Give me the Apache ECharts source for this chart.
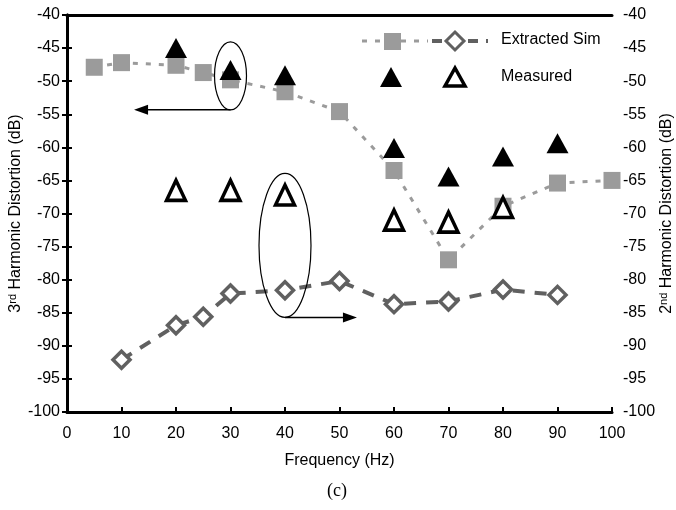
<!DOCTYPE html>
<html><head><meta charset="utf-8">
<script src="https://cdn.jsdelivr.net/npm/echarts@6/dist/echarts.min.js"></script>
<style>html,body{margin:0;padding:0;background:#fff}#c{width:676px;height:510px}</style>
</head><body><div id="c"></div>
<script>
// Extracted simulation, 3rd harmonic (left axis)
const simX3 = [5, 10, 20, 25, 30, 40, 50, 60, 70, 80, 90, 100];
const simY3 = [-47.9, -47.2, -47.6, -48.7, -49.8, -51.6, -54.6, -63.5, -77.0, -68.9, -65.4, -65.0];
// Extracted simulation, 2nd harmonic (right axis)
const simX2 = [10, 20, 25, 30, 40, 50, 60, 70, 80, 90];
const simY2 = [-92.1, -86.9, -85.6, -82.1, -81.6, -80.2, -83.7, -83.3, -81.5, -82.3];
// Measured 3rd harmonic (filled triangles, left axis)
const measX3 = [20, 30, 40, 60, 70, 80, 90];
const measY3 = [-45.0, -48.3, -49.1, -60.1, -64.4, -61.4, -59.4];
// Measured 2nd harmonic (open triangles, right axis)
const measX2 = [20, 30, 40, 60, 70, 80];
const measY2 = [-66.5, -66.5, -67.2, -71.0, -71.3, -69.1];
const xTicks = [0, 100, 10];
const yTicks = [-100, -40, 5];

const pair = (xs, ys) => xs.map((x, i) => [x, ys[i]]);
const font = 'Liberation Sans, Arial, sans-serif';
const yAx = (pos, name, margin, gap) => ({
  type: 'value', position: pos, min: yTicks[0], max: yTicks[1], interval: yTicks[2],
  axisLine: {show: true, lineStyle: {color: '#000', width: 3}},
  axisTick: {show: true, inside: true, length: 5, lineStyle: {color: '#000', width: 2}},
  axisLabel: {color: '#000', fontSize: 16, fontFamily: font, margin: margin},
  splitLine: {show: false},
  name: name, nameLocation: 'middle', nameRotate: 90, nameGap: gap, nameMoveOverlap: false,
  nameTextStyle: {color: '#000', fontSize: 16, fontFamily: font,
    rich: {n: {fontSize: 16, fontFamily: font, color: '#000'}, s: {fontSize: 11, fontFamily: font, color: '#000', verticalAlign: 'top', padding: [0, 0, 7, 0]}}}
});

const chart = echarts.init(document.getElementById('c'));
chart.setOption({
  animation: false,
  grid: {left: 67, right: 64, top: 15, bottom: 98, containLabel: false, outerBoundsMode: 'none'},
  xAxis: [{
    type: 'value', min: xTicks[0], max: xTicks[1], interval: xTicks[2],
    axisLine: {lineStyle: {color: '#000', width: 3}},
    axisTick: {inside: true, length: 5, lineStyle: {color: '#000', width: 2}},
    axisLabel: {color: '#000', fontSize: 16, fontFamily: font, margin: 14},
    splitLine: {show: false},
    name: 'Frequency (Hz)', nameLocation: 'middle', nameGap: 41, nameMoveOverlap: false,
    nameTextStyle: {color: '#000', fontSize: 16, fontFamily: font}
  }, {
    type: 'value', position: 'top', min: xTicks[0], max: xTicks[1],
    axisLine: {show: true, lineStyle: {color: '#000', width: 3}},
    axisTick: {show: false}, axisLabel: {show: false}, splitLine: {show: false}
  }],
  yAxis: [
    yAx('left', '{n|3}{s|rd}{n| Harmonic Distortion (dB)}', 7, 42),
    yAx('right', '{n|2}{s|nd}{n| Harmonic Distortion (dB)}', 11, 46)
  ],
  series: [
    {type: 'line', name: 'Extracted Sim 3rd', yAxisIndex: 0, data: pair(simX3, simY3),
     symbol: 'rect', symbolSize: 17, itemStyle: {color: '#9b9b9b'},
     lineStyle: {color: '#9b9b9b', width: 3, type: [5, 8]}, z: 2},
    {type: 'line', name: 'Extracted Sim 2nd', yAxisIndex: 1, data: pair(simX2, simY2),
     symbol: 'diamond', symbolSize: 17, showAllSymbol: true,
     itemStyle: {color: '#fff', borderColor: '#606060', borderWidth: 3.5},
     lineStyle: {color: '#606060', width: 4, type: [12, 10]}, z: 3},
    {type: 'scatter', name: 'Measured 3rd', yAxisIndex: 0, data: pair(measX3, measY3),
     symbol: 'triangle', symbolSize: [22, 20], itemStyle: {color: '#000', opacity: 1}, z: 5},
    {type: 'scatter', name: 'Measured 2nd', yAxisIndex: 1, data: pair(measX2, measY2),
     symbol: 'triangle', symbolSize: [19, 20],
     itemStyle: {color: '#fff', borderColor: '#000', borderWidth: 3.5, opacity: 1}, z: 5}
  ]
});

// annotations (ellipses + arrows) positioned from data coordinates
const P = (x, y) => chart.convertToPixel({xAxisIndex: 0, yAxisIndex: 0}, [x, y]);
const e1 = P(30, -49.2), e2 = P(40, -85.7);
const a1end = P(12.3, -54.3), a2end = P(53.2, -81.9);
const arrow = (x1, y, x2) => {
  const dir = Math.sign(x2 - x1);
  return [
    {type: 'line', shape: {x1: x1, y1: y, x2: x2 - dir * 8, y2: y}, style: {stroke: '#000', lineWidth: 1.5}, z: 10},
    {type: 'polygon', shape: {points: [[x2, y], [x2 - dir * 14, y - 5], [x2 - dir * 14, y + 5]]}, style: {fill: '#000'}, z: 10}
  ];
};
const g = [
  {type: 'ellipse', shape: {cx: e1[0], cy: e1[1], rx: 16, ry: 34}, style: {fill: 'none', stroke: '#000', lineWidth: 1.2}, z: 10},
  {type: 'ellipse', shape: {cx: e2[0], cy: e2[1] - 72, rx: 26, ry: 72}, style: {fill: 'none', stroke: '#000', lineWidth: 1.2}, z: 10},
  ...arrow(e1[0], e1[1] + 34, a1end[0]),
  ...arrow(e2[0], e2[1], a2end[0]),
  // legend
  {type: 'line', shape: {x1: 362, y1: 41, x2: 428, y2: 41}, style: {stroke: '#9b9b9b', lineWidth: 3, lineDash: [5, 8]}, z: 10},
  {type: 'rect', shape: {x: 384, y: 33, width: 17, height: 17}, style: {fill: '#9b9b9b'}, z: 11},
  {type: 'line', shape: {x1: 432, y1: 41, x2: 488, y2: 41}, style: {stroke: '#606060', lineWidth: 4, lineDash: [10, 8]}, z: 10},
  {type: 'polygon', shape: {points: [[455, 32], [464, 41], [455, 50], [446, 41]]}, style: {fill: '#fff', stroke: '#606060', lineWidth: 3}, z: 11},
  {type: 'text', left: 501, top: 32, style: {text: 'Extracted Sim', fontSize: 16, fontFamily: font, fill: '#000'}, z: 11},
  {type: 'polygon', shape: {points: [[391, 67], [402, 87], [380, 87]]}, style: {fill: '#000'}, z: 11},
  {type: 'polygon', shape: {points: [[455, 68], [465, 86], [445, 86]]}, style: {fill: '#fff', stroke: '#000', lineWidth: 3.5}, z: 11},
  {type: 'text', left: 501, top: 69, style: {text: 'Measured', fontSize: 16, fontFamily: font, fill: '#000'}, z: 11},
  {type: 'text', left: 327, top: 482, style: {text: '(c)', fontSize: 18, fontFamily: 'Liberation Serif, Times New Roman, serif', fill: '#000'}, z: 11}
];
chart.setOption({graphic: g});
</script>
</body></html>
